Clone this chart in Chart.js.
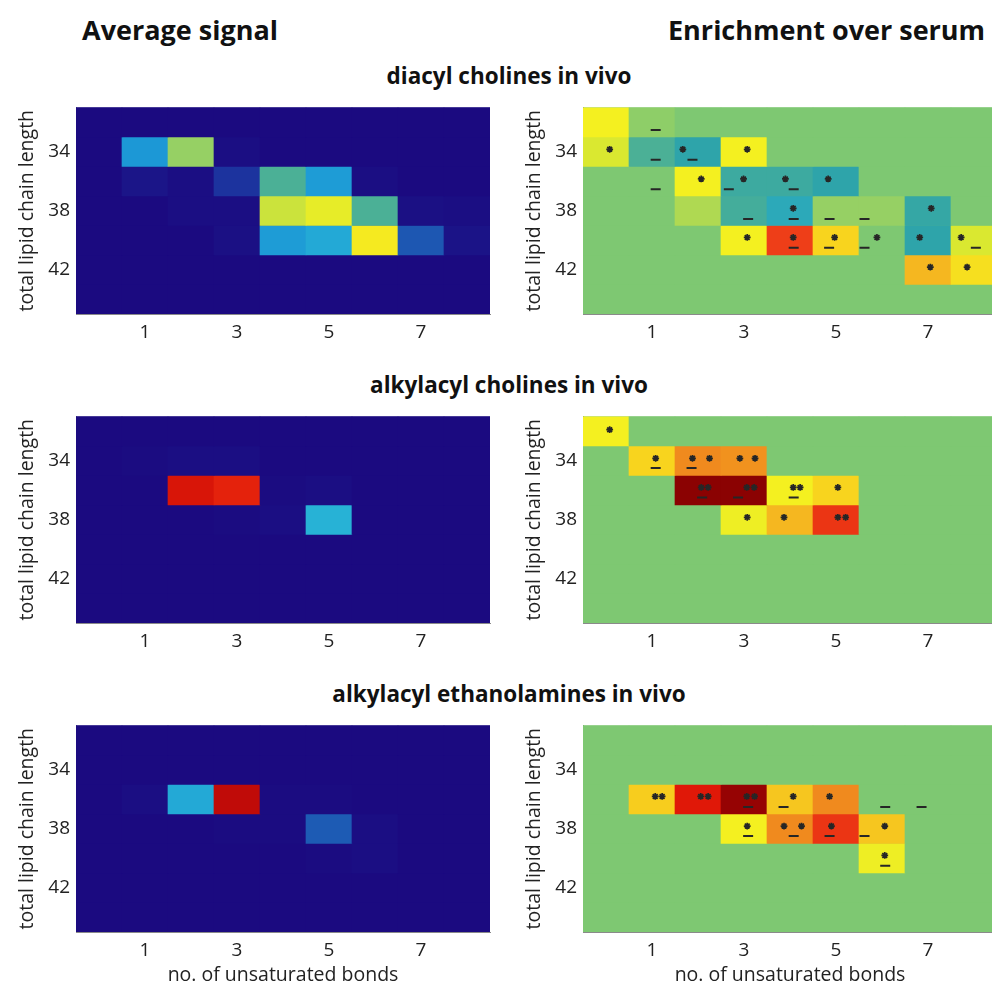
<!DOCTYPE html>
<html>
<head>
<meta charset="utf-8">
<script src="https://cdn.jsdelivr.net/npm/chart.js@4.4.0/dist/chart.umd.min.js"></script>
<style>
  html, body { margin: 0; padding: 0; background: #fff; overflow: hidden; }
  body { width: 992px; height: 988px; position: relative; font-family: "Open Sans", sans-serif; color: #111; }
  .head { position: absolute; font-weight: 700; font-size: 27px; line-height: 34px; white-space: nowrap; }
  .sub { position: absolute; left: 0; width: 1018px; text-align: center; font-weight: 700; font-size: 22.5px; line-height: 28px; }
  .panel { position: absolute; width: 500px; height: 284px; }
</style>
</head>
<body>
<div class="head" style="left:82px; top:13px">Average signal</div>
<div class="head" style="left:668px; top:13px">Enrichment over serum</div>

<div class="sub" style="top:62px">diacyl cholines in vivo</div>
<div class="sub" style="top:371px">alkylacyl cholines in vivo</div>
<div class="sub" style="top:680px">alkylacyl ethanolamines in vivo</div>

<div class="panel" style="left:0; top:90px"><canvas id="avgDiacyl" width="500" height="284"></canvas></div>
<div class="panel" style="left:507px; top:90px"><canvas id="enrDiacyl" width="500" height="284"></canvas></div>
<div class="panel" style="left:0; top:399px"><canvas id="avgAlkylChol" width="500" height="284"></canvas></div>
<div class="panel" style="left:507px; top:399px"><canvas id="enrAlkylChol" width="500" height="284"></canvas></div>
<div class="panel" style="left:0; top:708px"><canvas id="avgAlkylEth" width="500" height="284"></canvas></div>
<div class="panel" style="left:507px; top:708px"><canvas id="enrAlkylEth" width="500" height="284"></canvas></div>

<script>
// rows = total lipid chain length, columns = no. of unsaturated bonds
var chainLengths = [32, 34, 36, 38, 40, 42, 44];
var bondCounts = [0, 1, 2, 3, 4, 5, 6, 7, 8];
var xTickValues = [1, 3, 5, 7];
var yTickValues = [34, 38, 42];

// average signal (scaled 0..1 on the colour map)
var diacylSignal = [
    [0, 0, 0, 0, 0, 0, 0, 0, 0],
    [0, 0.30, 0.53, 0.01, 0, 0, 0, 0, 0],
    [0, 0.03, 0.01, 0.11, 0.46, 0.31, 0.01, 0, 0],
    [0, 0, 0.01, 0.01, 0.59, 0.63, 0.46, 0.015, 0.01],
    [0, 0, 0, 0.015, 0.31, 0.34, 0.66, 0.19, 0.025],
    [0, 0, 0, 0, 0, 0, 0, 0, 0],
    [0, 0, 0, 0, 0, 0, 0, 0, 0]
];
var alkylCholSignal = [
    [0, 0, 0, 0, 0, 0, 0, 0, 0],
    [0, 0.005, 0.01, 0.01, 0, 0, 0, 0, 0],
    [0, 0, 0.91, 0.89, 0.005, 0.01, 0, 0, 0],
    [0, 0, 0, 0.005, 0.01, 0.36, 0, 0, 0],
    [0, 0, 0, 0, 0, 0, 0, 0, 0],
    [0, 0, 0, 0, 0, 0, 0, 0, 0],
    [0, 0, 0, 0, 0, 0, 0, 0, 0]
];
var alkylEthSignal = [
    [0, 0, 0, 0, 0, 0, 0, 0, 0],
    [0, 0, 0, 0, 0, 0, 0, 0, 0],
    [0, 0.01, 0.34, 0.94, 0.005, 0.005, 0, 0, 0],
    [0, 0, 0, 0.005, 0.005, 0.20, 0.01, 0, 0],
    [0, 0, 0, 0, 0, 0.005, 0.01, 0, 0],
    [0, 0, 0, 0, 0, 0, 0, 0, 0],
    [0, 0, 0, 0, 0, 0, 0, 0, 0]
];

// enrichment over serum (0.5 = no change)
var diacylEnrich = [
    [0.65, 0.52, 0.5, 0.5, 0.5, 0.5, 0.5, 0.5, 0.5],
    [0.61, 0.46, 0.42, 0.65, 0.5, 0.5, 0.5, 0.5, 0.5],
    [0.5, 0.5, 0.65, 0.44, 0.44, 0.42, 0.5, 0.5, 0.5],
    [0.5, 0.5, 0.56, 0.45, 0.40, 0.53, 0.53, 0.43, 0.5],
    [0.5, 0.5, 0.5, 0.65, 0.86, 0.70, 0.5, 0.42, 0.61],
    [0.5, 0.5, 0.5, 0.5, 0.5, 0.5, 0.5, 0.74, 0.68],
    [0.5, 0.5, 0.5, 0.5, 0.5, 0.5, 0.5, 0.5, 0.5]
];
var alkylCholEnrich = [
    [0.65, 0.5, 0.5, 0.5, 0.5, 0.5, 0.5, 0.5, 0.5],
    [0.5, 0.70, 0.80, 0.79, 0.5, 0.5, 0.5, 0.5, 0.5],
    [0.5, 0.5, 0.99, 0.99, 0.65, 0.70, 0.5, 0.5, 0.5],
    [0.5, 0.5, 0.5, 0.64, 0.74, 0.87, 0.5, 0.5, 0.5],
    [0.5, 0.5, 0.5, 0.5, 0.5, 0.5, 0.5, 0.5, 0.5],
    [0.5, 0.5, 0.5, 0.5, 0.5, 0.5, 0.5, 0.5, 0.5],
    [0.5, 0.5, 0.5, 0.5, 0.5, 0.5, 0.5, 0.5, 0.5]
];
var alkylEthEnrich = [
    [0.5, 0.5, 0.5, 0.5, 0.5, 0.5, 0.5, 0.5, 0.5],
    [0.5, 0.5, 0.5, 0.5, 0.5, 0.5, 0.5, 0.5, 0.5],
    [0.5, 0.71, 0.90, 0.98, 0.72, 0.80, 0.5, 0.5, 0.5],
    [0.5, 0.5, 0.5, 0.65, 0.80, 0.87, 0.72, 0.5, 0.5],
    [0.5, 0.5, 0.5, 0.5, 0.5, 0.5, 0.64, 0.5, 0.5],
    [0.5, 0.5, 0.5, 0.5, 0.5, 0.5, 0.5, 0.5, 0.5],
    [0.5, 0.5, 0.5, 0.5, 0.5, 0.5, 0.5, 0.5, 0.5]
];

// significance marks: [bonds, chain length]
var diacylStars = [
    [0.08, 33.84], [1.67, 33.84], [3.07, 33.84],
    [2.07, 35.85], [2.99, 35.85], [3.90, 35.85], [4.83, 35.85],
    [4.07, 37.84], [7.07, 37.84],
    [3.07, 39.81], [4.07, 39.81], [4.97, 39.81], [5.89, 39.81], [6.82, 39.81], [7.72, 39.81],
    [7.05, 41.82], [7.85, 41.82]
];
var diacylDashes = [
    [1.08, 32.53], [1.08, 34.54], [1.88, 34.54],
    [1.08, 36.55], [2.67, 36.55], [4.08, 36.55],
    [3.09, 38.56], [4.08, 38.56], [4.86, 38.56], [5.62, 38.56],
    [4.08, 40.51], [4.85, 40.51], [5.62, 40.51], [8.04, 40.51]
];
var alkylCholStars = [
    [0.08, 31.90],
    [1.08, 33.84], [1.88, 33.84], [2.25, 33.84], [2.91, 33.84], [3.24, 33.84],
    [2.07, 35.81], [2.22, 35.81], [3.06, 35.81], [3.22, 35.81], [4.07, 35.81], [4.22, 35.81], [5.04, 35.81],
    [3.07, 37.84], [3.87, 37.84], [5.04, 37.84], [5.21, 37.84]
];
var alkylCholDashes = [
    [1.08, 34.50], [1.86, 34.50],
    [2.09, 36.49], [2.87, 36.49], [4.08, 36.49]
];
var alkylEthStars = [
    [1.07, 35.81], [1.22, 35.81], [2.06, 35.81], [2.22, 35.81], [3.06, 35.81], [3.23, 35.81], [4.07, 35.81], [4.86, 35.81],
    [3.07, 37.82], [3.87, 37.82], [4.25, 37.82], [4.90, 37.82], [6.06, 37.82],
    [6.06, 39.81]
];
var alkylEthDashes = [
    [3.09, 36.53], [3.86, 36.53], [6.07, 36.53], [6.86, 36.53],
    [3.09, 38.50], [4.08, 38.50], [4.86, 38.50], [5.62, 38.50],
    [6.07, 40.51]
];

// jet-like colour map as printed in the figure
var cmapStops = [
    [0.00, '#1b0a80'], [0.10, '#1c2f9c'], [0.20, '#1d5bb4'], [0.30, '#1c98d6'],
    [0.36, '#27b2d6'], [0.42, '#2ea4aa'], [0.46, '#4bb096'], [0.50, '#7ec872'],
    [0.55, '#a6d65a'], [0.60, '#d4e634'], [0.65, '#f4f020'], [0.70, '#f8d41e'],
    [0.75, '#f4b020'], [0.80, '#f08a1e'], [0.86, '#ee3e18'], [0.90, '#e01808'],
    [0.95, '#b80808'], [1.00, '#800000']
];

function hexToRgb(h) {
    return [parseInt(h.substr(1, 2), 16), parseInt(h.substr(3, 2), 16), parseInt(h.substr(5, 2), 16)];
}

function colorFor(v) {
    for (var i = 1; i < cmapStops.length; i++) {
        if (v <= cmapStops[i][0]) {
            var a = cmapStops[i - 1], b = cmapStops[i];
            var t = (v - a[0]) / (b[0] - a[0]);
            var ca = hexToRgb(a[1]), cb = hexToRgb(b[1]);
            var c = ca.map(function(x, k) { return Math.round(x + (cb[k] - x) * t); });
            return 'rgb(' + c.join(',') + ')';
        }
    }
    return cmapStops[cmapStops.length - 1][1];
}

// fill the plot area with the base colour so no seams show between rows
var areaFill = {
    id: 'areaFill',
    beforeDatasetsDraw: function(chart, args, opts) {
        var a = chart.chartArea, ctx = chart.ctx;
        ctx.save();
        ctx.fillStyle = opts.color;
        ctx.fillRect(a.left, a.top, a.right - a.left, a.bottom - a.top);
        ctx.restore();
    }
};

var tickFont = { family: 'Open Sans', size: 19 };
var titleFont = { family: 'Open Sans', size: 19.5 };

function makePanel(id, values, baseValue, stars, dashes, showXTitle) {
    var datasets = [];
    if (stars) {
        datasets.push({
            type: 'scatter', order: 0,
            data: stars.map(function(p) { return { x: p[0], y: p[1] }; }),
            pointStyle: 'star', radius: 3.4, borderColor: '#262626', backgroundColor: '#262626', borderWidth: 1.7
        });
    }
    if (dashes) {
        datasets.push({
            type: 'scatter', order: 0,
            data: dashes.map(function(p) { return { x: p[0], y: p[1] }; }),
            pointStyle: 'line', radius: 5, borderColor: '#262626', borderWidth: 2
        });
    }
    chainLengths.forEach(function(len, r) {
        datasets.push({
            type: 'bar', order: 1,
            data: bondCounts.map(function(b) { return { x: b, y: [len - 1, len + 1] }; }),
            backgroundColor: values[r].map(colorFor),
            borderWidth: 0, grouped: false, barPercentage: 1, categoryPercentage: 1
        });
    });

    new Chart(document.getElementById(id), {
        type: 'bar',
        data: { datasets: datasets },
        plugins: [areaFill],
        options: {
            responsive: false,
            animation: false,
            events: [],
            layout: { padding: { top: 10, right: 10, left: 0, bottom: 0 } },
            plugins: {
                legend: { display: false },
                tooltip: { enabled: false },
                areaFill: { color: colorFor(baseValue) }
            },
            scales: {
                x: {
                    type: 'linear', min: -0.5, max: 8.5, offset: false, bounds: 'data', beginAtZero: false,
                    grid: { display: false, drawTicks: false },
                    border: { display: true, color: '#8a8a8a', width: 1 },
                    afterBuildTicks: function(s) { s.ticks = xTickValues.map(function(v) { return { value: v }; }); },
                    afterFit: function(s) { s.height = 60; },
                    ticks: { padding: 7, color: '#222', font: tickFont, maxRotation: 0, autoSkip: false },
                    title: { display: showXTitle, text: 'no. of unsaturated bonds', color: '#222', font: titleFont, padding: { top: 0, bottom: 5 } }
                },
                y: {
                    type: 'linear', min: 31, max: 45, reverse: true, bounds: 'data', beginAtZero: false,
                    grid: { display: false, drawTicks: false },
                    border: { display: true, color: '#8a8a8a', width: 1 },
                    afterBuildTicks: function(s) { s.ticks = yTickValues.map(function(v) { return { value: v }; }); },
                    afterFit: function(s) { s.width = 76; },
                    ticks: { padding: 6, color: '#222', font: tickFont, autoSkip: false },
                    title: { display: true, text: 'total lipid chain length', color: '#222', font: titleFont, padding: { top: 16, bottom: 0 } }
                }
            }
        }
    });
}

makePanel('avgDiacyl', diacylSignal, 0, null, null, false);
makePanel('enrDiacyl', diacylEnrich, 0.5, diacylStars, diacylDashes, false);
makePanel('avgAlkylChol', alkylCholSignal, 0, null, null, false);
makePanel('enrAlkylChol', alkylCholEnrich, 0.5, alkylCholStars, alkylCholDashes, false);
makePanel('avgAlkylEth', alkylEthSignal, 0, null, null, true);
makePanel('enrAlkylEth', alkylEthEnrich, 0.5, alkylEthStars, alkylEthDashes, true);
</script>
</body>
</html>
